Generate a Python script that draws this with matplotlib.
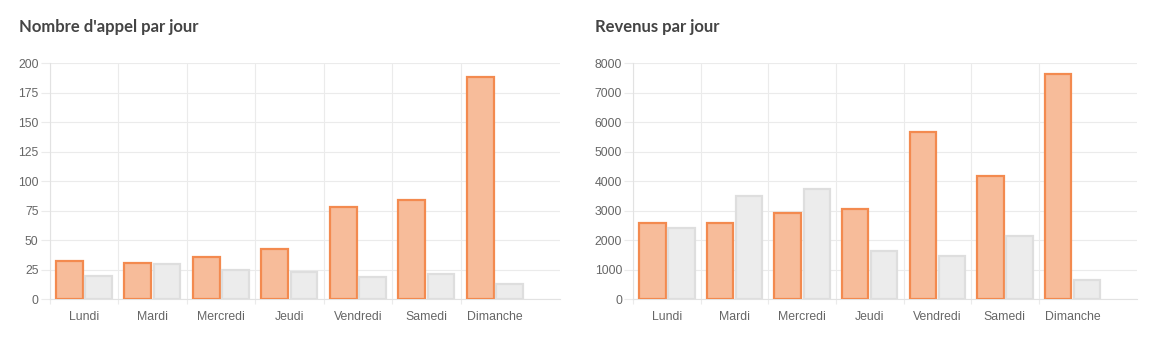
import numpy as np
import matplotlib.pyplot as plt
from matplotlib.ticker import FixedLocator

jours = ['Lundi', 'Mardi', 'Mercredi', 'Jeudi', 'Vendredi', 'Samedi', 'Dimanche']

# Nombre d'appel par jour
appels_a = [32, 31, 36, 43, 78, 84, 188]
appels_b = [20, 30, 25, 23, 19, 21, 13]

# Revenus par jour
revenus_a = [2580, 2580, 2920, 3050, 5670, 4170, 7630]
revenus_b = [2430, 3500, 3750, 1640, 1460, 2150, 640]

orange_fond = '#f7bc9a'
orange_bord = '#f38a4f'
gris_fond = '#ececec'
gris_bord = '#dedede'
grille = '#ebebeb'
texte = '#666666'

fig = plt.figure(figsize=(11.55, 3.49), dpi=100)


def graphique(ax, a, b, ymax, pas, titre, xt):
    x = np.arange(len(jours))
    ax.bar(x - 0.215, a, width=0.39, color=orange_fond, edgecolor=orange_bord, linewidth=1.6, zorder=3)
    ax.bar(x + 0.215, b, width=0.39, color=gris_fond, edgecolor=gris_bord, linewidth=1.6, zorder=3)
    ax.set_xlim(-0.5, 6.95)
    ax.set_ylim(0, ymax)
    ax.set_yticks(np.arange(0, ymax + 1, pas))
    ax.set_xticks(x)
    ax.set_xticklabels(jours)
    # lignes entre les jours (pas après dimanche)
    ax.xaxis.set_minor_locator(FixedLocator(np.arange(-0.5, 6, 1)))
    ax.tick_params(axis='x', which='major', length=0, pad=8.5, labelsize=8.8, labelcolor=texte)
    ax.tick_params(axis='x', which='minor', length=3.5, color=grille, width=0.8)
    ax.tick_params(axis='y', length=6.5, color=grille, width=0.8, pad=1.5, labelsize=8.8, labelcolor=texte)
    ax.grid(True, axis='y', color=grille, linewidth=0.8, zorder=0)
    ax.grid(True, axis='x', which='minor', color=grille, linewidth=0.8, zorder=0)
    for s in ['top', 'right']:
        ax.spines[s].set_visible(False)
    for s in ['left', 'bottom']:
        ax.spines[s].set_color('#e2e2e2')
        ax.spines[s].set_linewidth(0.8)
    for lab in ax.get_xticklabels() + ax.get_yticklabels():
        lab.set_family(['Liberation Sans', 'DejaVu Sans'])
    fig.text(xt, 0.923, titre, fontsize=12, fontweight='bold', color='#444444',
             family=['Lato', 'DejaVu Sans'], va='center', ha='left')


ax1 = fig.add_axes([0.0430, 0.1424, 0.4418, 0.677])
graphique(ax1, appels_a, appels_b, 200, 25, "Nombre d'appel par jour", 0.0165)

ax2 = fig.add_axes([0.5483, 0.1424, 0.4358, 0.677])
graphique(ax2, revenus_a, revenus_b, 8000, 1000, 'Revenus par jour', 0.5155)

fig.savefig('out.png', dpi=100)
